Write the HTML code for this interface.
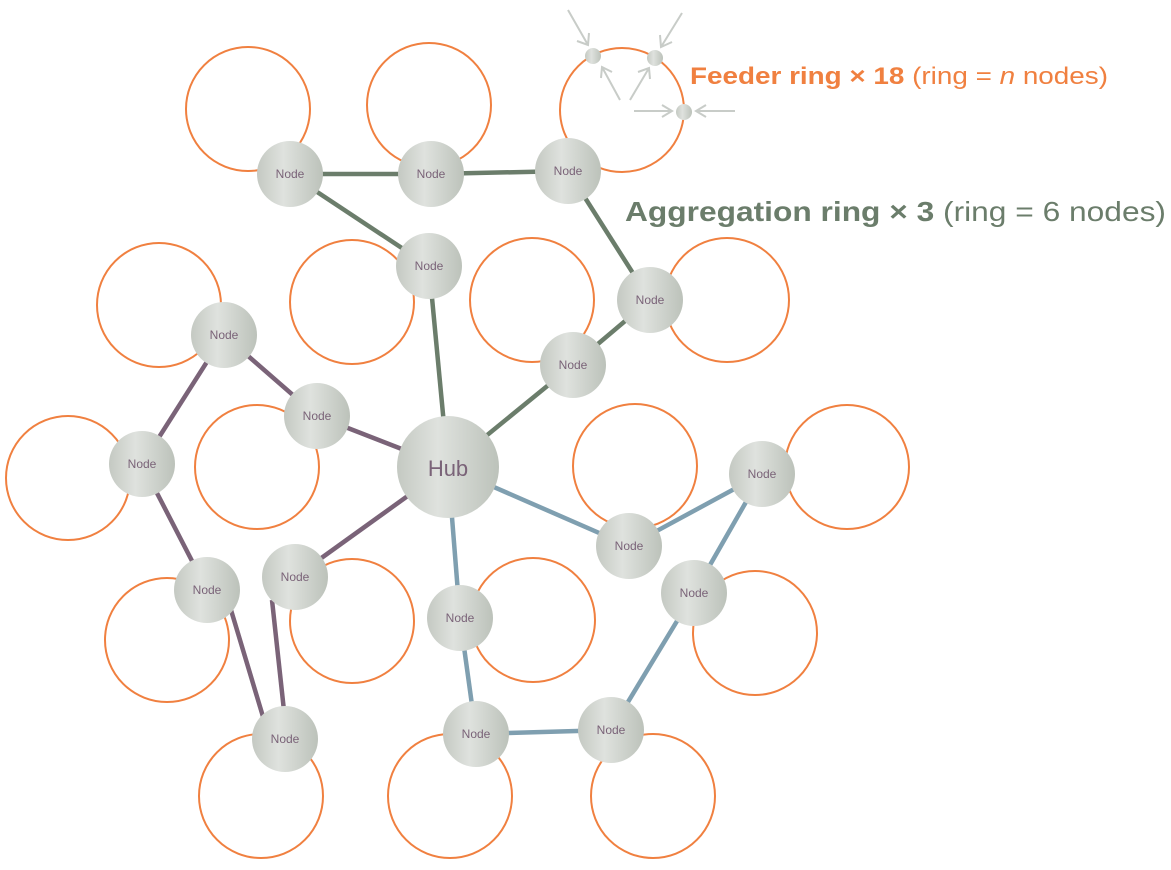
<!DOCTYPE html>
<html><head><meta charset="utf-8"><style>html,body{margin:0;padding:0;background:#fff}svg{display:block}</style></head>
<body>
<svg width="1171" height="870" viewBox="0 0 1171 870" xmlns="http://www.w3.org/2000/svg" font-family="Liberation Sans, sans-serif">
<defs>
<linearGradient id="g" x1="0" y1="0" x2="1" y2="0">
<stop offset="0" stop-color="#c4c9c2"/><stop offset="0.4" stop-color="#dfe2de"/><stop offset="1" stop-color="#bcc2ba"/>
</linearGradient>
</defs>
<g fill="none" stroke="#f08040" stroke-width="2">
<circle cx="248" cy="109" r="62"/><circle cx="429" cy="105" r="62"/><circle cx="622" cy="110" r="62"/>
<circle cx="352" cy="302" r="62"/><circle cx="532" cy="300" r="62"/><circle cx="727" cy="300" r="62"/>
<circle cx="159" cy="305" r="62"/><circle cx="68" cy="478" r="62"/><circle cx="257" cy="467" r="62"/>
<circle cx="635" cy="466" r="62"/><circle cx="847" cy="467" r="62"/><circle cx="167" cy="640" r="62"/>
<circle cx="352" cy="621" r="62"/><circle cx="533" cy="620" r="62"/><circle cx="755" cy="633" r="62"/>
<circle cx="261" cy="796" r="62"/><circle cx="450" cy="796" r="62"/><circle cx="653" cy="796" r="62"/>
</g>
<g stroke-width="4.5" stroke-linecap="butt">
<g stroke="#6b7d6b">
<line x1="290" y1="174" x2="431" y2="174"/><line x1="431" y1="174" x2="568" y2="171"/>
<line x1="290" y1="174" x2="429" y2="266"/><line x1="568" y1="171" x2="650" y2="300"/>
<line x1="429" y1="266" x2="448" y2="467"/><line x1="650" y1="300" x2="573" y2="365"/>
<line x1="573" y1="365" x2="448" y2="467"/>
</g>
<g stroke="#7a6378">
<line x1="224" y1="335" x2="317" y2="416"/><line x1="317" y1="416" x2="448" y2="467"/>
<line x1="224" y1="335" x2="142" y2="464"/><line x1="142" y1="464" x2="207" y2="590"/>
<line x1="228" y1="600" x2="264" y2="720"/><line x1="295" y1="577" x2="448" y2="467"/>
<line x1="272" y1="600" x2="285" y2="720"/>
</g>
<g stroke="#7f9fb0">
<line x1="448" y1="467" x2="629" y2="546"/><line x1="629" y1="546" x2="762" y2="474"/>
<line x1="762" y1="474" x2="694" y2="593"/><line x1="694" y1="593" x2="611" y2="730"/>
<line x1="476" y1="734" x2="611" y2="730"/><line x1="460" y1="618" x2="476" y2="734"/>
<line x1="448" y1="467" x2="460" y2="618"/>
</g>
</g>
<g fill="url(#g)">
<circle cx="448" cy="467" r="51"/>
<circle cx="290" cy="174" r="33"/><circle cx="431" cy="174" r="33"/><circle cx="568" cy="171" r="33"/>
<circle cx="429" cy="266" r="33"/><circle cx="650" cy="300" r="33"/><circle cx="573" cy="365" r="33"/>
<circle cx="224" cy="335" r="33"/><circle cx="317" cy="416" r="33"/><circle cx="142" cy="464" r="33"/>
<circle cx="207" cy="590" r="33"/><circle cx="295" cy="577" r="33"/><circle cx="285" cy="739" r="33"/>
<circle cx="629" cy="546" r="33"/><circle cx="762" cy="474" r="33"/><circle cx="694" cy="593" r="33"/>
<circle cx="460" cy="618" r="33"/><circle cx="476" cy="734" r="33"/><circle cx="611" cy="730" r="33"/>
<circle cx="593" cy="56" r="8"/><circle cx="655" cy="58" r="8"/><circle cx="684" cy="112" r="8"/>
</g>
<g fill="#7a6378" font-size="12" text-anchor="middle">
<text x="448" y="476" font-size="22">Hub</text>
<text x="290" y="178">Node</text><text x="431" y="178">Node</text><text x="568" y="175">Node</text>
<text x="429" y="270">Node</text><text x="650" y="304">Node</text><text x="573" y="369">Node</text>
<text x="224" y="339">Node</text><text x="317" y="420">Node</text><text x="142" y="468">Node</text>
<text x="207" y="594">Node</text><text x="295" y="581">Node</text><text x="285" y="743">Node</text>
<text x="629" y="550">Node</text><text x="762" y="478">Node</text><text x="694" y="597">Node</text>
<text x="460" y="622">Node</text><text x="476" y="738">Node</text><text x="611" y="734">Node</text>
</g>
<g stroke="#c8ccc8" stroke-width="2" fill="none">
<path d="M568 10 L588 45 M577 41 L588 45 L589 33"/>
<path d="M682 13 L661 47 M660 35 L661 47 L672 42"/>
<path d="M620 100 L602 67 M601 78 L602 67 L612 72"/>
<path d="M630 100 L649 68 M638 72 L649 68 L650 79"/>
<path d="M634 111 L672 111 M662 105 L672 111 L662 117"/>
<path d="M735 111 L696 111 M706 105 L696 111 L706 117"/>
</g>
<text x="690" y="84" font-size="24" textLength="418" lengthAdjust="spacingAndGlyphs" fill="#f08040"><tspan font-weight="bold">Feeder ring × 18</tspan> (ring = <tspan font-style="italic">n</tspan> nodes)</text>
<text x="625" y="221" font-size="28" textLength="541" lengthAdjust="spacingAndGlyphs" fill="#6b7d6b"><tspan font-weight="bold">Aggregation ring × 3</tspan> (ring = 6 nodes)</text>
</svg>
</body></html>
